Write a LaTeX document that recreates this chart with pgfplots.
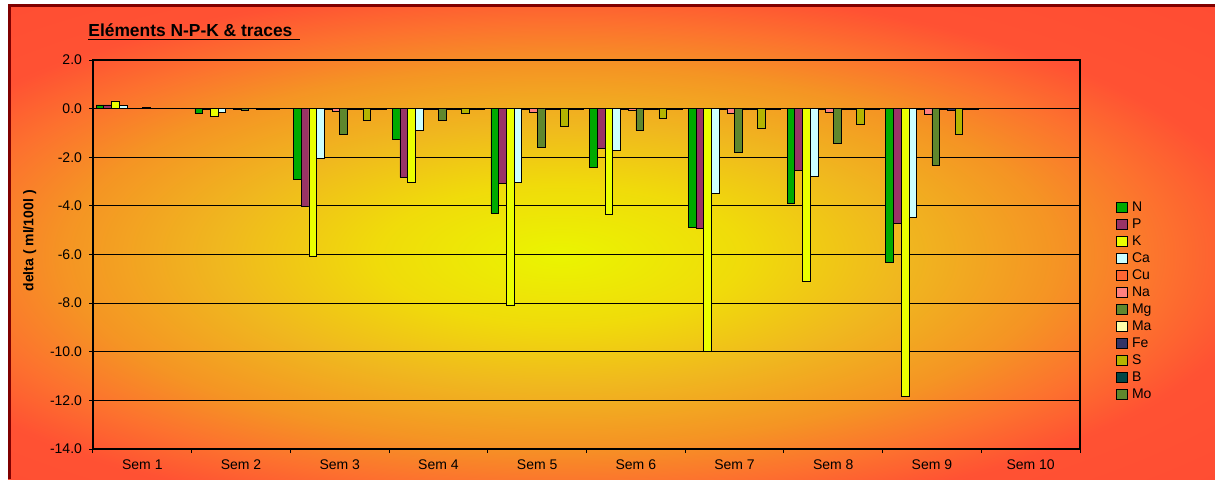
\documentclass[border=0pt]{standalone}
\usepackage{fontspec}
\setmainfont{Liberation Sans}
\usepackage{pgfplots}
\pgfplotsset{compat=1.18}
\usepackage{pgfplotstable}

\definecolor{cN}{RGB}{0,170,0}
\definecolor{cP}{RGB}{153,51,102}
\definecolor{cK}{RGB}{235,255,0}
\definecolor{cCa}{RGB}{204,255,255}
\definecolor{cCu}{RGB}{255,102,51}
\definecolor{cNa}{RGB}{255,128,128}
\definecolor{cMg}{RGB}{95,135,45}
\definecolor{cMa}{RGB}{255,255,170}
\definecolor{cFe}{RGB}{51,51,102}
\definecolor{cS}{RGB}{180,180,0}
\definecolor{cB}{RGB}{0,70,70}
\definecolor{cMo}{RGB}{95,135,45}
\definecolor{framered}{RGB}{128,0,0}

\pgfdeclareradialshading{chartbg}{\pgfpoint{0bp}{0bp}}{rgb(0bp)=(0.92,0.96,0); rgb(7bp)=(0.94,0.86,0.04); rgb(13bp)=(0.94,0.72,0.12); rgb(19bp)=(0.96,0.58,0.14); rgb(23bp)=(0.99,0.45,0.18); rgb(27bp)=(1,0.32,0.2); rgb(50bp)=(1,0.26,0.2)}

% week, then one column per element (delta in ml/100l)
\pgfplotstableread{
x  N     P     K      Ca    Cu    Na    Mg    Ma    Fe    S     B     Mo
0  0.15  0.15  0.32   0.12  0.01  0.01  0.05  0.01  0.01  0.03  0.01  0.01
1 -0.20 -0.02 -0.32  -0.14  0.00 -0.01 -0.07  0.00 -0.02 -0.04 -0.01  0.00
2 -2.90 -4.00 -6.07  -2.05 -0.02 -0.10 -1.06 -0.03 -0.04 -0.48 -0.03 -0.02
3 -1.28 -2.83 -3.03  -0.89 -0.02 -0.05 -0.47 -0.02 -0.02 -0.21 -0.02 -0.01
4 -4.31 -3.07 -8.08  -3.05 -0.02 -0.15 -1.58 -0.03 -0.04 -0.73 -0.03 -0.02
5 -2.42 -1.65 -4.34  -1.72 -0.02 -0.08 -0.89 -0.02 -0.03 -0.40 -0.02 -0.02
6 -4.90 -4.94 -10.00 -3.49 -0.03 -0.19 -1.80 -0.03 -0.05 -0.83 -0.03 -0.02
7 -3.91 -2.54 -7.11  -2.77 -0.03 -0.14 -1.43 -0.03 -0.04 -0.66 -0.03 -0.02
8 -6.34 -4.72 -11.84 -4.49 -0.03 -0.22 -2.32 -0.03 -0.06 -1.06 -0.03 -0.02
}\data

\begin{document}
\begin{tikzpicture}
\useasboundingbox (0,0) rectangle (607.5pt,239.5pt);
\fill[white] (0,0) rectangle (607.5pt,239.5pt);
\begin{scope}
  \clip (4pt,0) rectangle (607.5pt,237pt);
  \shade[shading=chartbg] (-47.5pt,-13pt) rectangle (607.5pt,237pt);
\end{scope}
\draw[framered, line width=1.5pt] (4.5pt,0) -- (4.5pt,236.8pt) -- (607.5pt,236.8pt);

\node[anchor=base west, font=\bfseries\fontsize{8.7}{10}\selectfont, inner sep=0pt]
  at (44pt,221.5pt) {\underline{Eléments N-P-K \& traces\ \,}};

\begin{axis}[
    at={(46.5pt,15pt)}, anchor=south west, scale only axis,
    width=493.5pt, height=194.5pt,
    xmin=-0.5, xmax=9.5, ymin=-14, ymax=2,
    ybar=0pt, bar width=3.85pt,
    xtick={0,...,9},
    xticklabels={Sem 1,Sem 2,Sem 3,Sem 4,Sem 5,Sem 6,Sem 7,Sem 8,Sem 9,Sem 10},
    minor xtick={-0.5,0.5,...,9.5},
    major x tick style={draw=none},
    ytick={-14,-12,...,2},
    tick align=outside, tick pos=left,
    major tick length=2pt, minor tick length=2pt,
    tick style={black, line width=0.5pt},
    ymajorgrids, grid style={black, line width=0.5pt},
    axis line style={black, line width=0.6pt},
    yticklabel style={/pgf/number format/.cd, fixed, fixed zerofill, precision=1},
    /pgf/number format/assume math mode=true,
    ticklabel style={font=\fontsize{7}{8}\selectfont},
    ylabel={\textbf{delta ( ml/100l )}},
    ylabel style={font=\fontsize{7}{8}\selectfont, at={(axis description cs:-0.064,0.535)}, anchor=center},
    legend image code/.code={\draw[#1, line width=0.4pt] (0pt,-2.6pt) rectangle (5.2pt,2.6pt);},
    legend style={draw=none, fill=none, at={(1.0365,0.3815)}, anchor=west,
        inner sep=0pt, row sep=1.3pt,
        font=\fontsize{7}{8}\selectfont,
        nodes={inner sep=1pt, text height=4.6pt, text depth=0.6pt},
        /tikz/every odd column/.append style={column sep=1.2pt}},
    legend cell align=left,
    every axis plot/.append style={draw=black, line width=0.35pt},
]
\addplot[fill=cN]  table[x=x, y=N]  {\data};
\addplot[fill=cP]  table[x=x, y=P]  {\data};
\addplot[fill=cK]  table[x=x, y=K]  {\data};
\addplot[fill=cCa] table[x=x, y=Ca] {\data};
\addplot[fill=cCu] table[x=x, y=Cu] {\data};
\addplot[fill=cNa] table[x=x, y=Na] {\data};
\addplot[fill=cMg] table[x=x, y=Mg] {\data};
\addplot[fill=cMa] table[x=x, y=Ma] {\data};
\addplot[fill=cFe] table[x=x, y=Fe] {\data};
\addplot[fill=cS]  table[x=x, y=S]  {\data};
\addplot[fill=cB]  table[x=x, y=B]  {\data};
\addplot[fill=cMo] table[x=x, y=Mo] {\data};
\legend{N,P,K,Ca,Cu,Na,Mg,Ma,Fe,S,B,Mo}
\end{axis}
\end{tikzpicture}
\end{document}
